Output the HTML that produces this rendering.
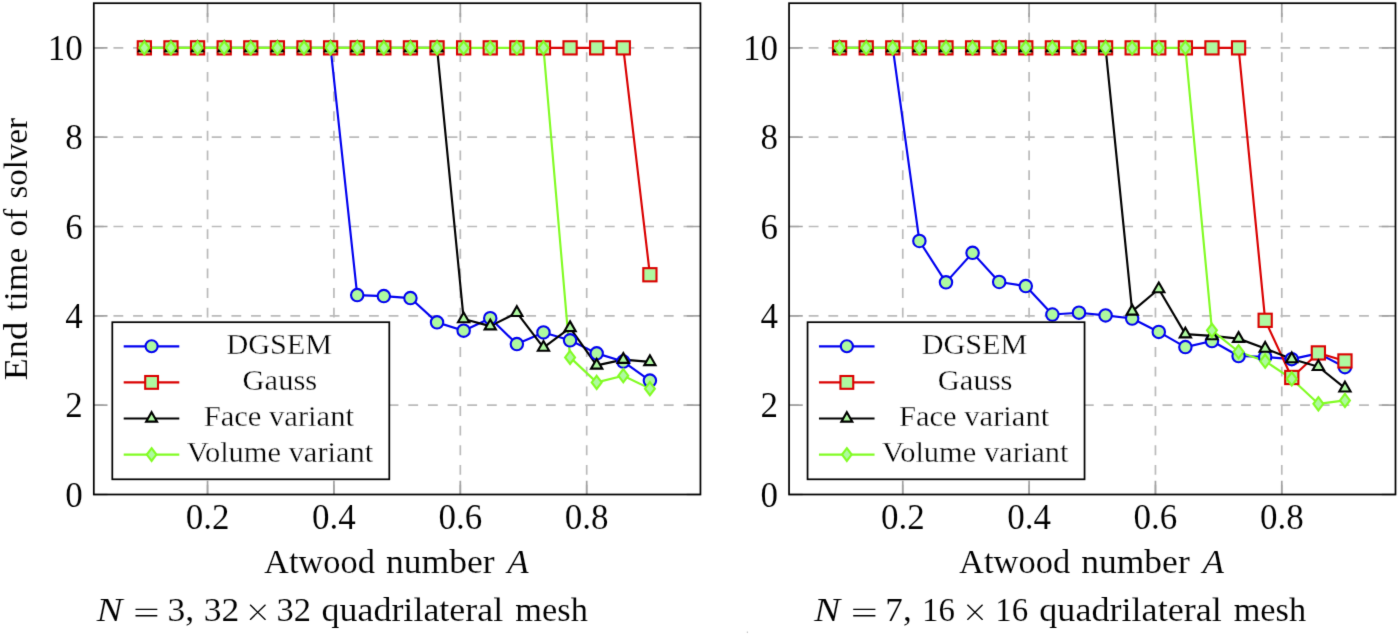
<!DOCTYPE html>
<html><head><meta charset="utf-8"><title>Atwood number plots</title>
<style>
html,body{margin:0;padding:0;background:#fff;}
body{width:1400px;height:635px;overflow:hidden;}
svg{display:block;will-change:transform;}
text{font-family:"Liberation Serif",serif;fill:#000;stroke:#fff;stroke-width:0.1px;paint-order:fill;}
.lgt{stroke-width:0.3px;}
.tk{font-size:35px;}
.lb{font-size:34px;}
.cp{font-size:33px;}
.lg{font-size:27px;}
</style></head><body>
<svg width="1400" height="635" viewBox="0 0 1400 635">
<defs><filter id="soft" x="0" y="0" width="1400" height="635" filterUnits="userSpaceOnUse" color-interpolation-filters="sRGB"><feConvolveMatrix order="3" kernelMatrix="0.0100 0.0800 0.0100 0.0800 0.6400 0.0800 0.0100 0.0800 0.0100" divisor="1" edgeMode="duplicate"/></filter></defs>
<g filter="url(#soft)">
<rect width="1400" height="635" fill="#fff"/>
<rect x="746.8" y="631.6" width="1.2" height="1.2" fill="#b8b8b8"/>
<path d="M207.55 494.5V3.2M333.93 494.5V3.2M460.32 494.5V3.2M586.7 494.5V3.2M93.8 405.17H700.45M93.8 315.85H700.45M93.8 226.52H700.45M93.8 137.19H700.45M93.8 47.86H700.45" stroke="#bababa" stroke-width="1.7" stroke-dasharray="9.828 9.828" fill="none"/>
<path d="M207.55 494.5v-13.7M207.55 3.2v13.7M333.93 494.5v-13.7M333.93 3.2v13.7M460.32 494.5v-13.7M460.32 3.2v13.7M586.7 494.5v-13.7M586.7 3.2v13.7M93.8 494.5h13.7M700.45 494.5h-13.7M93.8 405.17h13.7M700.45 405.17h-13.7M93.8 315.85h13.7M700.45 315.85h-13.7M93.8 226.52h13.7M700.45 226.52h-13.7M93.8 137.19h13.7M700.45 137.19h-13.7M93.8 47.86h13.7M700.45 47.86h-13.7" stroke="#a2a2a2" stroke-width="1.7" fill="none"/>
<polyline points="330.61,47.86 357.21,295.08 383.82,296.06 410.43,298.07 437.04,322.37 463.64,330.67 490.25,318.17 516.86,344.07 543.47,332.46 570.07,340.28 596.68,353.36 623.29,361.58 649.9,380.61" fill="none" stroke="#0000f0" stroke-width="2.15" stroke-linejoin="round"/>
<polyline points="543.47,47.86 570.07,47.86 596.68,47.86 623.29,47.86 649.9,274.75" fill="none" stroke="#da0000" stroke-width="2.15" stroke-linejoin="round"/>
<polyline points="144.35,47.86 170.96,47.86 197.57,47.86 224.18,47.86 250.78,47.86 277.39,47.86 304,47.86 330.61,47.86 357.21,47.86 383.82,47.86 410.43,47.86 437.04,47.86 463.64,318.97 490.25,326.12 516.86,312.72 543.47,347.56 570.07,327.9 596.68,365.42 623.29,359.62 649.9,361.85" fill="none" stroke="#000000" stroke-width="2.15" stroke-linejoin="round"/>
<polyline points="144.35,47.86 170.96,47.86 197.57,47.86 224.18,47.86 250.78,47.86 277.39,47.86 304,47.86 330.61,47.86 357.21,47.86 383.82,47.86 410.43,47.86 437.04,47.86 463.64,47.86 490.25,47.86 516.86,47.86 543.47,47.86 570.07,357.38 596.68,382.39 623.29,375.69 649.9,388.65" fill="none" stroke="#82fc24" stroke-width="2.15" stroke-linejoin="round"/>
<circle cx="144.35" cy="47.86" r="6.2" fill="#aef9a0" stroke="#0000f0" stroke-width="2.1"/>
<circle cx="170.96" cy="47.86" r="6.2" fill="#aef9a0" stroke="#0000f0" stroke-width="2.1"/>
<circle cx="197.57" cy="47.86" r="6.2" fill="#aef9a0" stroke="#0000f0" stroke-width="2.1"/>
<circle cx="224.18" cy="47.86" r="6.2" fill="#aef9a0" stroke="#0000f0" stroke-width="2.1"/>
<circle cx="250.78" cy="47.86" r="6.2" fill="#aef9a0" stroke="#0000f0" stroke-width="2.1"/>
<circle cx="277.39" cy="47.86" r="6.2" fill="#aef9a0" stroke="#0000f0" stroke-width="2.1"/>
<circle cx="304" cy="47.86" r="6.2" fill="#aef9a0" stroke="#0000f0" stroke-width="2.1"/>
<circle cx="330.61" cy="47.86" r="6.2" fill="#aef9a0" stroke="#0000f0" stroke-width="2.1"/>
<circle cx="357.21" cy="295.08" r="6.2" fill="#aef9a0" stroke="#0000f0" stroke-width="2.1"/>
<circle cx="383.82" cy="296.06" r="6.2" fill="#aef9a0" stroke="#0000f0" stroke-width="2.1"/>
<circle cx="410.43" cy="298.07" r="6.2" fill="#aef9a0" stroke="#0000f0" stroke-width="2.1"/>
<circle cx="437.04" cy="322.37" r="6.2" fill="#aef9a0" stroke="#0000f0" stroke-width="2.1"/>
<circle cx="463.64" cy="330.67" r="6.2" fill="#aef9a0" stroke="#0000f0" stroke-width="2.1"/>
<circle cx="490.25" cy="318.17" r="6.2" fill="#aef9a0" stroke="#0000f0" stroke-width="2.1"/>
<circle cx="516.86" cy="344.07" r="6.2" fill="#aef9a0" stroke="#0000f0" stroke-width="2.1"/>
<circle cx="543.47" cy="332.46" r="6.2" fill="#aef9a0" stroke="#0000f0" stroke-width="2.1"/>
<circle cx="570.07" cy="340.28" r="6.2" fill="#aef9a0" stroke="#0000f0" stroke-width="2.1"/>
<circle cx="596.68" cy="353.36" r="6.2" fill="#aef9a0" stroke="#0000f0" stroke-width="2.1"/>
<circle cx="623.29" cy="361.58" r="6.2" fill="#aef9a0" stroke="#0000f0" stroke-width="2.1"/>
<circle cx="649.9" cy="380.61" r="6.2" fill="#aef9a0" stroke="#0000f0" stroke-width="2.1"/>
<rect x="137.75" y="41.26" width="13.2" height="13.2" fill="#aef9a0" stroke="#da0000" stroke-width="2.1"/>
<rect x="164.36" y="41.26" width="13.2" height="13.2" fill="#aef9a0" stroke="#da0000" stroke-width="2.1"/>
<rect x="190.97" y="41.26" width="13.2" height="13.2" fill="#aef9a0" stroke="#da0000" stroke-width="2.1"/>
<rect x="217.58" y="41.26" width="13.2" height="13.2" fill="#aef9a0" stroke="#da0000" stroke-width="2.1"/>
<rect x="244.18" y="41.26" width="13.2" height="13.2" fill="#aef9a0" stroke="#da0000" stroke-width="2.1"/>
<rect x="270.79" y="41.26" width="13.2" height="13.2" fill="#aef9a0" stroke="#da0000" stroke-width="2.1"/>
<rect x="297.4" y="41.26" width="13.2" height="13.2" fill="#aef9a0" stroke="#da0000" stroke-width="2.1"/>
<rect x="324.01" y="41.26" width="13.2" height="13.2" fill="#aef9a0" stroke="#da0000" stroke-width="2.1"/>
<rect x="350.61" y="41.26" width="13.2" height="13.2" fill="#aef9a0" stroke="#da0000" stroke-width="2.1"/>
<rect x="377.22" y="41.26" width="13.2" height="13.2" fill="#aef9a0" stroke="#da0000" stroke-width="2.1"/>
<rect x="403.83" y="41.26" width="13.2" height="13.2" fill="#aef9a0" stroke="#da0000" stroke-width="2.1"/>
<rect x="430.44" y="41.26" width="13.2" height="13.2" fill="#aef9a0" stroke="#da0000" stroke-width="2.1"/>
<rect x="457.04" y="41.26" width="13.2" height="13.2" fill="#aef9a0" stroke="#da0000" stroke-width="2.1"/>
<rect x="483.65" y="41.26" width="13.2" height="13.2" fill="#aef9a0" stroke="#da0000" stroke-width="2.1"/>
<rect x="510.26" y="41.26" width="13.2" height="13.2" fill="#aef9a0" stroke="#da0000" stroke-width="2.1"/>
<rect x="536.87" y="41.26" width="13.2" height="13.2" fill="#aef9a0" stroke="#da0000" stroke-width="2.1"/>
<rect x="563.47" y="41.26" width="13.2" height="13.2" fill="#aef9a0" stroke="#da0000" stroke-width="2.1"/>
<rect x="590.08" y="41.26" width="13.2" height="13.2" fill="#aef9a0" stroke="#da0000" stroke-width="2.1"/>
<rect x="616.69" y="41.26" width="13.2" height="13.2" fill="#aef9a0" stroke="#da0000" stroke-width="2.1"/>
<rect x="643.3" y="268.15" width="13.2" height="13.2" fill="#aef9a0" stroke="#da0000" stroke-width="2.1"/>
<polygon points="144.35,41.36 149.98,51.11 138.73,51.11" fill="#aef9a0" stroke="#000000" stroke-width="2.1" stroke-linejoin="miter" stroke-miterlimit="10"/>
<polygon points="170.96,41.36 176.59,51.11 165.33,51.11" fill="#aef9a0" stroke="#000000" stroke-width="2.1" stroke-linejoin="miter" stroke-miterlimit="10"/>
<polygon points="197.57,41.36 203.2,51.11 191.94,51.11" fill="#aef9a0" stroke="#000000" stroke-width="2.1" stroke-linejoin="miter" stroke-miterlimit="10"/>
<polygon points="224.18,41.36 229.81,51.11 218.55,51.11" fill="#aef9a0" stroke="#000000" stroke-width="2.1" stroke-linejoin="miter" stroke-miterlimit="10"/>
<polygon points="250.78,41.36 256.41,51.11 245.15,51.11" fill="#aef9a0" stroke="#000000" stroke-width="2.1" stroke-linejoin="miter" stroke-miterlimit="10"/>
<polygon points="277.39,41.36 283.02,51.11 271.76,51.11" fill="#aef9a0" stroke="#000000" stroke-width="2.1" stroke-linejoin="miter" stroke-miterlimit="10"/>
<polygon points="304,41.36 309.63,51.11 298.37,51.11" fill="#aef9a0" stroke="#000000" stroke-width="2.1" stroke-linejoin="miter" stroke-miterlimit="10"/>
<polygon points="330.61,41.36 336.24,51.11 324.98,51.11" fill="#aef9a0" stroke="#000000" stroke-width="2.1" stroke-linejoin="miter" stroke-miterlimit="10"/>
<polygon points="357.21,41.36 362.84,51.11 351.58,51.11" fill="#aef9a0" stroke="#000000" stroke-width="2.1" stroke-linejoin="miter" stroke-miterlimit="10"/>
<polygon points="383.82,41.36 389.45,51.11 378.19,51.11" fill="#aef9a0" stroke="#000000" stroke-width="2.1" stroke-linejoin="miter" stroke-miterlimit="10"/>
<polygon points="410.43,41.36 416.06,51.11 404.8,51.11" fill="#aef9a0" stroke="#000000" stroke-width="2.1" stroke-linejoin="miter" stroke-miterlimit="10"/>
<polygon points="437.04,41.36 442.67,51.11 431.41,51.11" fill="#aef9a0" stroke="#000000" stroke-width="2.1" stroke-linejoin="miter" stroke-miterlimit="10"/>
<polygon points="463.64,312.47 469.27,322.22 458.01,322.22" fill="#aef9a0" stroke="#000000" stroke-width="2.1" stroke-linejoin="miter" stroke-miterlimit="10"/>
<polygon points="490.25,319.62 495.88,329.37 484.62,329.37" fill="#aef9a0" stroke="#000000" stroke-width="2.1" stroke-linejoin="miter" stroke-miterlimit="10"/>
<polygon points="516.86,306.22 522.49,315.97 511.23,315.97" fill="#aef9a0" stroke="#000000" stroke-width="2.1" stroke-linejoin="miter" stroke-miterlimit="10"/>
<polygon points="543.47,341.06 549.1,350.81 537.84,350.81" fill="#aef9a0" stroke="#000000" stroke-width="2.1" stroke-linejoin="miter" stroke-miterlimit="10"/>
<polygon points="570.07,321.4 575.7,331.15 564.44,331.15" fill="#aef9a0" stroke="#000000" stroke-width="2.1" stroke-linejoin="miter" stroke-miterlimit="10"/>
<polygon points="596.68,358.92 602.31,368.67 591.05,368.67" fill="#aef9a0" stroke="#000000" stroke-width="2.1" stroke-linejoin="miter" stroke-miterlimit="10"/>
<polygon points="623.29,353.12 628.92,362.87 617.66,362.87" fill="#aef9a0" stroke="#000000" stroke-width="2.1" stroke-linejoin="miter" stroke-miterlimit="10"/>
<polygon points="649.9,355.35 655.52,365.1 644.27,365.1" fill="#aef9a0" stroke="#000000" stroke-width="2.1" stroke-linejoin="miter" stroke-miterlimit="10"/>
<polygon points="144.35,41.26 149.3,47.86 144.35,54.46 139.4,47.86" fill="#aef9a0" stroke="#82fc24" stroke-width="2.1" stroke-linejoin="miter" stroke-miterlimit="10"/>
<polygon points="170.96,41.26 175.91,47.86 170.96,54.46 166.01,47.86" fill="#aef9a0" stroke="#82fc24" stroke-width="2.1" stroke-linejoin="miter" stroke-miterlimit="10"/>
<polygon points="197.57,41.26 202.52,47.86 197.57,54.46 192.62,47.86" fill="#aef9a0" stroke="#82fc24" stroke-width="2.1" stroke-linejoin="miter" stroke-miterlimit="10"/>
<polygon points="224.18,41.26 229.13,47.86 224.18,54.46 219.23,47.86" fill="#aef9a0" stroke="#82fc24" stroke-width="2.1" stroke-linejoin="miter" stroke-miterlimit="10"/>
<polygon points="250.78,41.26 255.73,47.86 250.78,54.46 245.83,47.86" fill="#aef9a0" stroke="#82fc24" stroke-width="2.1" stroke-linejoin="miter" stroke-miterlimit="10"/>
<polygon points="277.39,41.26 282.34,47.86 277.39,54.46 272.44,47.86" fill="#aef9a0" stroke="#82fc24" stroke-width="2.1" stroke-linejoin="miter" stroke-miterlimit="10"/>
<polygon points="304,41.26 308.95,47.86 304,54.46 299.05,47.86" fill="#aef9a0" stroke="#82fc24" stroke-width="2.1" stroke-linejoin="miter" stroke-miterlimit="10"/>
<polygon points="330.61,41.26 335.56,47.86 330.61,54.46 325.66,47.86" fill="#aef9a0" stroke="#82fc24" stroke-width="2.1" stroke-linejoin="miter" stroke-miterlimit="10"/>
<polygon points="357.21,41.26 362.16,47.86 357.21,54.46 352.26,47.86" fill="#aef9a0" stroke="#82fc24" stroke-width="2.1" stroke-linejoin="miter" stroke-miterlimit="10"/>
<polygon points="383.82,41.26 388.77,47.86 383.82,54.46 378.87,47.86" fill="#aef9a0" stroke="#82fc24" stroke-width="2.1" stroke-linejoin="miter" stroke-miterlimit="10"/>
<polygon points="410.43,41.26 415.38,47.86 410.43,54.46 405.48,47.86" fill="#aef9a0" stroke="#82fc24" stroke-width="2.1" stroke-linejoin="miter" stroke-miterlimit="10"/>
<polygon points="437.04,41.26 441.99,47.86 437.04,54.46 432.09,47.86" fill="#aef9a0" stroke="#82fc24" stroke-width="2.1" stroke-linejoin="miter" stroke-miterlimit="10"/>
<polygon points="463.64,41.26 468.59,47.86 463.64,54.46 458.69,47.86" fill="#aef9a0" stroke="#82fc24" stroke-width="2.1" stroke-linejoin="miter" stroke-miterlimit="10"/>
<polygon points="490.25,41.26 495.2,47.86 490.25,54.46 485.3,47.86" fill="#aef9a0" stroke="#82fc24" stroke-width="2.1" stroke-linejoin="miter" stroke-miterlimit="10"/>
<polygon points="516.86,41.26 521.81,47.86 516.86,54.46 511.91,47.86" fill="#aef9a0" stroke="#82fc24" stroke-width="2.1" stroke-linejoin="miter" stroke-miterlimit="10"/>
<polygon points="543.47,41.26 548.42,47.86 543.47,54.46 538.52,47.86" fill="#aef9a0" stroke="#82fc24" stroke-width="2.1" stroke-linejoin="miter" stroke-miterlimit="10"/>
<polygon points="570.07,350.78 575.02,357.38 570.07,363.98 565.12,357.38" fill="#aef9a0" stroke="#82fc24" stroke-width="2.1" stroke-linejoin="miter" stroke-miterlimit="10"/>
<polygon points="596.68,375.79 601.63,382.39 596.68,388.99 591.73,382.39" fill="#aef9a0" stroke="#82fc24" stroke-width="2.1" stroke-linejoin="miter" stroke-miterlimit="10"/>
<polygon points="623.29,369.09 628.24,375.69 623.29,382.29 618.34,375.69" fill="#aef9a0" stroke="#82fc24" stroke-width="2.1" stroke-linejoin="miter" stroke-miterlimit="10"/>
<polygon points="649.9,382.05 654.85,388.65 649.9,395.25 644.95,388.65" fill="#aef9a0" stroke="#82fc24" stroke-width="2.1" stroke-linejoin="miter" stroke-miterlimit="10"/>
<rect x="93.8" y="3.2" width="606.65" height="491.3" fill="none" stroke="#000" stroke-width="1.73"/>
<text x="207.55" y="529" text-anchor="middle" class="tk">0.2</text>
<text x="333.93" y="529" text-anchor="middle" class="tk">0.4</text>
<text x="460.32" y="529" text-anchor="middle" class="tk">0.6</text>
<text x="586.7" y="529" text-anchor="middle" class="tk">0.8</text>
<text x="82.8" y="506.8" text-anchor="end" class="tk">0</text>
<text x="82.8" y="417.47" text-anchor="end" class="tk">2</text>
<text x="82.8" y="328.15" text-anchor="end" class="tk">4</text>
<text x="82.8" y="238.82" text-anchor="end" class="tk">6</text>
<text x="82.8" y="149.49" text-anchor="end" class="tk">8</text>
<text x="82.8" y="60.16" text-anchor="end" class="tk">10</text>
<text x="263.99" y="572.9" font-size="34" textLength="111.08" lengthAdjust="spacingAndGlyphs">Atwood</text>
<text x="386.05" y="572.9" font-size="34" textLength="108.54" lengthAdjust="spacingAndGlyphs">number</text>
<text x="507.34" y="572.9" font-size="34" font-style="italic" textLength="21.54" lengthAdjust="spacingAndGlyphs">A</text>
<text x="96.4" y="620.7" font-size="33" font-style="italic" textLength="26.18" lengthAdjust="spacingAndGlyphs">N</text>
<path d="M135.5 609.4H157.3M135.5 615.8H157.3" stroke="#000" stroke-width="1.4" fill="none"/>
<text x="167.55" y="620.7" font-size="33" textLength="26.64" lengthAdjust="spacingAndGlyphs">3,</text>
<text x="203.75" y="620.7" font-size="33" textLength="35.5" lengthAdjust="spacingAndGlyphs">32</text>
<path d="M250.4 605.1L265.2 619.4M265.2 605.1L250.4 619.4" stroke="#000" stroke-width="1.35" stroke-linecap="round" fill="none"/>
<text x="276.61" y="620.7" font-size="33" textLength="34.48" lengthAdjust="spacingAndGlyphs">32</text>
<text x="321.41" y="620.7" font-size="33" textLength="181.91" lengthAdjust="spacingAndGlyphs">quadrilateral</text>
<text x="515.36" y="620.7" font-size="33" textLength="72.44" lengthAdjust="spacingAndGlyphs">mesh</text>
<rect x="112.3" y="322.2" width="277" height="157.1" fill="#fff" stroke="#000" stroke-width="1.73"/>
<path d="M123.7 346.3H179.3" stroke="#0000f0" stroke-width="2.15"/>
<circle cx="151.6" cy="346.3" r="6.01" fill="#aef9a0" stroke="#0000f0" stroke-width="2.1"/>
<text class="lgt" x="226.48" y="353.8" font-size="28.5" textLength="105.69" lengthAdjust="spacingAndGlyphs">DGSEM</text>
<path d="M123.7 382.4H179.3" stroke="#da0000" stroke-width="2.15"/>
<rect x="145.2" y="376" width="12.8" height="12.8" fill="#aef9a0" stroke="#da0000" stroke-width="2.1"/>
<text class="lgt" x="242.53" y="389.83" font-size="28.5" textLength="74.66" lengthAdjust="spacingAndGlyphs">Gauss</text>
<path d="M123.7 418.5H179.3" stroke="#000000" stroke-width="2.15"/>
<polygon points="151.6,412.19 157.06,421.65 146.14,421.65" fill="#aef9a0" stroke="#000000" stroke-width="2.1" stroke-linejoin="miter" stroke-miterlimit="10"/>
<text class="lgt" x="203.65" y="425.86" font-size="28.5" textLength="150.29" lengthAdjust="spacingAndGlyphs">Face variant</text>
<path d="M123.7 454.6H179.3" stroke="#82fc24" stroke-width="2.15"/>
<polygon points="151.6,448.2 156.4,454.6 151.6,461 146.8,454.6" fill="#aef9a0" stroke="#82fc24" stroke-width="2.1" stroke-linejoin="miter" stroke-miterlimit="10"/>
<text class="lgt" x="186.86" y="461.89" font-size="28.5" textLength="186.34" lengthAdjust="spacingAndGlyphs">Volume variant</text>
<path d="M902.76 494.5V3.2M1029.1 494.5V3.2M1155.45 494.5V3.2M1281.79 494.5V3.2M789.05 405.17H1395.5M789.05 315.85H1395.5M789.05 226.52H1395.5M789.05 137.19H1395.5M789.05 47.86H1395.5" stroke="#bababa" stroke-width="1.7" stroke-dasharray="9.828 9.828" fill="none"/>
<path d="M902.76 494.5v-13.7M902.76 3.2v13.7M1029.1 494.5v-13.7M1029.1 3.2v13.7M1155.45 494.5v-13.7M1155.45 3.2v13.7M1281.79 494.5v-13.7M1281.79 3.2v13.7M789.05 494.5h13.7M1395.5 494.5h-13.7M789.05 405.17h13.7M1395.5 405.17h-13.7M789.05 315.85h13.7M1395.5 315.85h-13.7M789.05 226.52h13.7M1395.5 226.52h-13.7M789.05 137.19h13.7M1395.5 137.19h-13.7M789.05 47.86h13.7M1395.5 47.86h-13.7" stroke="#a2a2a2" stroke-width="1.7" fill="none"/>
<polyline points="892.78,47.86 919.38,240.99 945.98,282.35 972.58,252.87 999.18,281.99 1025.78,286.05 1052.38,314.51 1078.98,312.72 1105.57,315.4 1132.17,318.53 1158.77,331.92 1185.37,347.11 1211.97,341.04 1238.57,356.04 1265.17,356.94 1291.77,359.17 1318.36,353.36 1344.96,367.21" fill="none" stroke="#0000f0" stroke-width="2.15" stroke-linejoin="round"/>
<polyline points="1185.37,47.86 1211.97,47.86 1238.57,47.86 1265.17,320.31 1291.77,377.48 1318.36,352.92 1344.96,360.96" fill="none" stroke="#da0000" stroke-width="2.15" stroke-linejoin="round"/>
<polyline points="839.59,47.86 866.19,47.86 892.78,47.86 919.38,47.86 945.98,47.86 972.58,47.86 999.18,47.86 1025.78,47.86 1052.38,47.86 1078.98,47.86 1105.57,47.86 1132.17,311.38 1158.77,289.05 1185.37,334.16 1211.97,335.94 1238.57,338.62 1265.17,348.45 1291.77,358.95 1318.36,366.76 1344.96,388.2" fill="none" stroke="#000000" stroke-width="2.15" stroke-linejoin="round"/>
<polyline points="839.59,47.86 866.19,47.86 892.78,47.86 919.38,47.86 945.98,47.86 972.58,47.86 999.18,47.86 1025.78,47.86 1052.38,47.86 1078.98,47.86 1105.57,47.86 1132.17,47.86 1158.77,47.86 1185.37,47.86 1211.97,330.36 1238.57,351.76 1265.17,361.18 1291.77,378.96 1318.36,403.83 1344.96,400.44" fill="none" stroke="#82fc24" stroke-width="2.15" stroke-linejoin="round"/>
<circle cx="839.59" cy="47.86" r="6.2" fill="#aef9a0" stroke="#0000f0" stroke-width="2.1"/>
<circle cx="866.19" cy="47.86" r="6.2" fill="#aef9a0" stroke="#0000f0" stroke-width="2.1"/>
<circle cx="892.78" cy="47.86" r="6.2" fill="#aef9a0" stroke="#0000f0" stroke-width="2.1"/>
<circle cx="919.38" cy="240.99" r="6.2" fill="#aef9a0" stroke="#0000f0" stroke-width="2.1"/>
<circle cx="945.98" cy="282.35" r="6.2" fill="#aef9a0" stroke="#0000f0" stroke-width="2.1"/>
<circle cx="972.58" cy="252.87" r="6.2" fill="#aef9a0" stroke="#0000f0" stroke-width="2.1"/>
<circle cx="999.18" cy="281.99" r="6.2" fill="#aef9a0" stroke="#0000f0" stroke-width="2.1"/>
<circle cx="1025.78" cy="286.05" r="6.2" fill="#aef9a0" stroke="#0000f0" stroke-width="2.1"/>
<circle cx="1052.38" cy="314.51" r="6.2" fill="#aef9a0" stroke="#0000f0" stroke-width="2.1"/>
<circle cx="1078.98" cy="312.72" r="6.2" fill="#aef9a0" stroke="#0000f0" stroke-width="2.1"/>
<circle cx="1105.57" cy="315.4" r="6.2" fill="#aef9a0" stroke="#0000f0" stroke-width="2.1"/>
<circle cx="1132.17" cy="318.53" r="6.2" fill="#aef9a0" stroke="#0000f0" stroke-width="2.1"/>
<circle cx="1158.77" cy="331.92" r="6.2" fill="#aef9a0" stroke="#0000f0" stroke-width="2.1"/>
<circle cx="1185.37" cy="347.11" r="6.2" fill="#aef9a0" stroke="#0000f0" stroke-width="2.1"/>
<circle cx="1211.97" cy="341.04" r="6.2" fill="#aef9a0" stroke="#0000f0" stroke-width="2.1"/>
<circle cx="1238.57" cy="356.04" r="6.2" fill="#aef9a0" stroke="#0000f0" stroke-width="2.1"/>
<circle cx="1265.17" cy="356.94" r="6.2" fill="#aef9a0" stroke="#0000f0" stroke-width="2.1"/>
<circle cx="1291.77" cy="359.17" r="6.2" fill="#aef9a0" stroke="#0000f0" stroke-width="2.1"/>
<circle cx="1318.36" cy="353.36" r="6.2" fill="#aef9a0" stroke="#0000f0" stroke-width="2.1"/>
<circle cx="1344.96" cy="367.21" r="6.2" fill="#aef9a0" stroke="#0000f0" stroke-width="2.1"/>
<rect x="832.99" y="41.26" width="13.2" height="13.2" fill="#aef9a0" stroke="#da0000" stroke-width="2.1"/>
<rect x="859.59" y="41.26" width="13.2" height="13.2" fill="#aef9a0" stroke="#da0000" stroke-width="2.1"/>
<rect x="886.18" y="41.26" width="13.2" height="13.2" fill="#aef9a0" stroke="#da0000" stroke-width="2.1"/>
<rect x="912.78" y="41.26" width="13.2" height="13.2" fill="#aef9a0" stroke="#da0000" stroke-width="2.1"/>
<rect x="939.38" y="41.26" width="13.2" height="13.2" fill="#aef9a0" stroke="#da0000" stroke-width="2.1"/>
<rect x="965.98" y="41.26" width="13.2" height="13.2" fill="#aef9a0" stroke="#da0000" stroke-width="2.1"/>
<rect x="992.58" y="41.26" width="13.2" height="13.2" fill="#aef9a0" stroke="#da0000" stroke-width="2.1"/>
<rect x="1019.18" y="41.26" width="13.2" height="13.2" fill="#aef9a0" stroke="#da0000" stroke-width="2.1"/>
<rect x="1045.78" y="41.26" width="13.2" height="13.2" fill="#aef9a0" stroke="#da0000" stroke-width="2.1"/>
<rect x="1072.38" y="41.26" width="13.2" height="13.2" fill="#aef9a0" stroke="#da0000" stroke-width="2.1"/>
<rect x="1098.97" y="41.26" width="13.2" height="13.2" fill="#aef9a0" stroke="#da0000" stroke-width="2.1"/>
<rect x="1125.57" y="41.26" width="13.2" height="13.2" fill="#aef9a0" stroke="#da0000" stroke-width="2.1"/>
<rect x="1152.17" y="41.26" width="13.2" height="13.2" fill="#aef9a0" stroke="#da0000" stroke-width="2.1"/>
<rect x="1178.77" y="41.26" width="13.2" height="13.2" fill="#aef9a0" stroke="#da0000" stroke-width="2.1"/>
<rect x="1205.37" y="41.26" width="13.2" height="13.2" fill="#aef9a0" stroke="#da0000" stroke-width="2.1"/>
<rect x="1231.97" y="41.26" width="13.2" height="13.2" fill="#aef9a0" stroke="#da0000" stroke-width="2.1"/>
<rect x="1258.57" y="313.71" width="13.2" height="13.2" fill="#aef9a0" stroke="#da0000" stroke-width="2.1"/>
<rect x="1285.17" y="370.88" width="13.2" height="13.2" fill="#aef9a0" stroke="#da0000" stroke-width="2.1"/>
<rect x="1311.76" y="346.32" width="13.2" height="13.2" fill="#aef9a0" stroke="#da0000" stroke-width="2.1"/>
<rect x="1338.36" y="354.36" width="13.2" height="13.2" fill="#aef9a0" stroke="#da0000" stroke-width="2.1"/>
<polygon points="839.59,41.36 845.22,51.11 833.96,51.11" fill="#aef9a0" stroke="#000000" stroke-width="2.1" stroke-linejoin="miter" stroke-miterlimit="10"/>
<polygon points="866.19,41.36 871.82,51.11 860.56,51.11" fill="#aef9a0" stroke="#000000" stroke-width="2.1" stroke-linejoin="miter" stroke-miterlimit="10"/>
<polygon points="892.78,41.36 898.41,51.11 887.16,51.11" fill="#aef9a0" stroke="#000000" stroke-width="2.1" stroke-linejoin="miter" stroke-miterlimit="10"/>
<polygon points="919.38,41.36 925.01,51.11 913.75,51.11" fill="#aef9a0" stroke="#000000" stroke-width="2.1" stroke-linejoin="miter" stroke-miterlimit="10"/>
<polygon points="945.98,41.36 951.61,51.11 940.35,51.11" fill="#aef9a0" stroke="#000000" stroke-width="2.1" stroke-linejoin="miter" stroke-miterlimit="10"/>
<polygon points="972.58,41.36 978.21,51.11 966.95,51.11" fill="#aef9a0" stroke="#000000" stroke-width="2.1" stroke-linejoin="miter" stroke-miterlimit="10"/>
<polygon points="999.18,41.36 1004.81,51.11 993.55,51.11" fill="#aef9a0" stroke="#000000" stroke-width="2.1" stroke-linejoin="miter" stroke-miterlimit="10"/>
<polygon points="1025.78,41.36 1031.41,51.11 1020.15,51.11" fill="#aef9a0" stroke="#000000" stroke-width="2.1" stroke-linejoin="miter" stroke-miterlimit="10"/>
<polygon points="1052.38,41.36 1058.01,51.11 1046.75,51.11" fill="#aef9a0" stroke="#000000" stroke-width="2.1" stroke-linejoin="miter" stroke-miterlimit="10"/>
<polygon points="1078.98,41.36 1084.6,51.11 1073.35,51.11" fill="#aef9a0" stroke="#000000" stroke-width="2.1" stroke-linejoin="miter" stroke-miterlimit="10"/>
<polygon points="1105.57,41.36 1111.2,51.11 1099.95,51.11" fill="#aef9a0" stroke="#000000" stroke-width="2.1" stroke-linejoin="miter" stroke-miterlimit="10"/>
<polygon points="1132.17,304.88 1137.8,314.63 1126.54,314.63" fill="#aef9a0" stroke="#000000" stroke-width="2.1" stroke-linejoin="miter" stroke-miterlimit="10"/>
<polygon points="1158.77,282.55 1164.4,292.3 1153.14,292.3" fill="#aef9a0" stroke="#000000" stroke-width="2.1" stroke-linejoin="miter" stroke-miterlimit="10"/>
<polygon points="1185.37,327.66 1191,337.41 1179.74,337.41" fill="#aef9a0" stroke="#000000" stroke-width="2.1" stroke-linejoin="miter" stroke-miterlimit="10"/>
<polygon points="1211.97,329.44 1217.6,339.19 1206.34,339.19" fill="#aef9a0" stroke="#000000" stroke-width="2.1" stroke-linejoin="miter" stroke-miterlimit="10"/>
<polygon points="1238.57,332.12 1244.2,341.87 1232.94,341.87" fill="#aef9a0" stroke="#000000" stroke-width="2.1" stroke-linejoin="miter" stroke-miterlimit="10"/>
<polygon points="1265.17,341.95 1270.8,351.7 1259.54,351.7" fill="#aef9a0" stroke="#000000" stroke-width="2.1" stroke-linejoin="miter" stroke-miterlimit="10"/>
<polygon points="1291.77,352.45 1297.39,362.2 1286.14,362.2" fill="#aef9a0" stroke="#000000" stroke-width="2.1" stroke-linejoin="miter" stroke-miterlimit="10"/>
<polygon points="1318.36,360.26 1323.99,370.01 1312.73,370.01" fill="#aef9a0" stroke="#000000" stroke-width="2.1" stroke-linejoin="miter" stroke-miterlimit="10"/>
<polygon points="1344.96,381.7 1350.59,391.45 1339.33,391.45" fill="#aef9a0" stroke="#000000" stroke-width="2.1" stroke-linejoin="miter" stroke-miterlimit="10"/>
<polygon points="839.59,41.26 844.54,47.86 839.59,54.46 834.64,47.86" fill="#aef9a0" stroke="#82fc24" stroke-width="2.1" stroke-linejoin="miter" stroke-miterlimit="10"/>
<polygon points="866.19,41.26 871.14,47.86 866.19,54.46 861.24,47.86" fill="#aef9a0" stroke="#82fc24" stroke-width="2.1" stroke-linejoin="miter" stroke-miterlimit="10"/>
<polygon points="892.78,41.26 897.73,47.86 892.78,54.46 887.83,47.86" fill="#aef9a0" stroke="#82fc24" stroke-width="2.1" stroke-linejoin="miter" stroke-miterlimit="10"/>
<polygon points="919.38,41.26 924.33,47.86 919.38,54.46 914.43,47.86" fill="#aef9a0" stroke="#82fc24" stroke-width="2.1" stroke-linejoin="miter" stroke-miterlimit="10"/>
<polygon points="945.98,41.26 950.93,47.86 945.98,54.46 941.03,47.86" fill="#aef9a0" stroke="#82fc24" stroke-width="2.1" stroke-linejoin="miter" stroke-miterlimit="10"/>
<polygon points="972.58,41.26 977.53,47.86 972.58,54.46 967.63,47.86" fill="#aef9a0" stroke="#82fc24" stroke-width="2.1" stroke-linejoin="miter" stroke-miterlimit="10"/>
<polygon points="999.18,41.26 1004.13,47.86 999.18,54.46 994.23,47.86" fill="#aef9a0" stroke="#82fc24" stroke-width="2.1" stroke-linejoin="miter" stroke-miterlimit="10"/>
<polygon points="1025.78,41.26 1030.73,47.86 1025.78,54.46 1020.83,47.86" fill="#aef9a0" stroke="#82fc24" stroke-width="2.1" stroke-linejoin="miter" stroke-miterlimit="10"/>
<polygon points="1052.38,41.26 1057.33,47.86 1052.38,54.46 1047.43,47.86" fill="#aef9a0" stroke="#82fc24" stroke-width="2.1" stroke-linejoin="miter" stroke-miterlimit="10"/>
<polygon points="1078.98,41.26 1083.93,47.86 1078.98,54.46 1074.03,47.86" fill="#aef9a0" stroke="#82fc24" stroke-width="2.1" stroke-linejoin="miter" stroke-miterlimit="10"/>
<polygon points="1105.57,41.26 1110.52,47.86 1105.57,54.46 1100.62,47.86" fill="#aef9a0" stroke="#82fc24" stroke-width="2.1" stroke-linejoin="miter" stroke-miterlimit="10"/>
<polygon points="1132.17,41.26 1137.12,47.86 1132.17,54.46 1127.22,47.86" fill="#aef9a0" stroke="#82fc24" stroke-width="2.1" stroke-linejoin="miter" stroke-miterlimit="10"/>
<polygon points="1158.77,41.26 1163.72,47.86 1158.77,54.46 1153.82,47.86" fill="#aef9a0" stroke="#82fc24" stroke-width="2.1" stroke-linejoin="miter" stroke-miterlimit="10"/>
<polygon points="1185.37,41.26 1190.32,47.86 1185.37,54.46 1180.42,47.86" fill="#aef9a0" stroke="#82fc24" stroke-width="2.1" stroke-linejoin="miter" stroke-miterlimit="10"/>
<polygon points="1211.97,323.76 1216.92,330.36 1211.97,336.96 1207.02,330.36" fill="#aef9a0" stroke="#82fc24" stroke-width="2.1" stroke-linejoin="miter" stroke-miterlimit="10"/>
<polygon points="1238.57,345.16 1243.52,351.76 1238.57,358.36 1233.62,351.76" fill="#aef9a0" stroke="#82fc24" stroke-width="2.1" stroke-linejoin="miter" stroke-miterlimit="10"/>
<polygon points="1265.17,354.58 1270.12,361.18 1265.17,367.78 1260.22,361.18" fill="#aef9a0" stroke="#82fc24" stroke-width="2.1" stroke-linejoin="miter" stroke-miterlimit="10"/>
<polygon points="1291.77,372.36 1296.72,378.96 1291.77,385.56 1286.82,378.96" fill="#aef9a0" stroke="#82fc24" stroke-width="2.1" stroke-linejoin="miter" stroke-miterlimit="10"/>
<polygon points="1318.36,397.23 1323.31,403.83 1318.36,410.43 1313.41,403.83" fill="#aef9a0" stroke="#82fc24" stroke-width="2.1" stroke-linejoin="miter" stroke-miterlimit="10"/>
<polygon points="1344.96,393.84 1349.91,400.44 1344.96,407.04 1340.01,400.44" fill="#aef9a0" stroke="#82fc24" stroke-width="2.1" stroke-linejoin="miter" stroke-miterlimit="10"/>
<rect x="789.05" y="3.2" width="606.45" height="491.3" fill="none" stroke="#000" stroke-width="1.73"/>
<text x="902.76" y="529" text-anchor="middle" class="tk">0.2</text>
<text x="1029.1" y="529" text-anchor="middle" class="tk">0.4</text>
<text x="1155.45" y="529" text-anchor="middle" class="tk">0.6</text>
<text x="1281.79" y="529" text-anchor="middle" class="tk">0.8</text>
<text x="778.05" y="506.8" text-anchor="end" class="tk">0</text>
<text x="778.05" y="417.47" text-anchor="end" class="tk">2</text>
<text x="778.05" y="328.15" text-anchor="end" class="tk">4</text>
<text x="778.05" y="238.82" text-anchor="end" class="tk">6</text>
<text x="778.05" y="149.49" text-anchor="end" class="tk">8</text>
<text x="778.05" y="60.16" text-anchor="end" class="tk">10</text>
<text x="959.14" y="572.9" font-size="34" textLength="111.08" lengthAdjust="spacingAndGlyphs">Atwood</text>
<text x="1081.2" y="572.9" font-size="34" textLength="108.54" lengthAdjust="spacingAndGlyphs">number</text>
<text x="1202.49" y="572.9" font-size="34" font-style="italic" textLength="21.54" lengthAdjust="spacingAndGlyphs">A</text>
<text x="813.9" y="620.7" font-size="33" font-style="italic" textLength="26.32" lengthAdjust="spacingAndGlyphs">N</text>
<path d="M853.2 609.4H875.4M853.2 615.8H875.4" stroke="#000" stroke-width="1.4" fill="none"/>
<text x="885.38" y="620.7" font-size="33" textLength="26.28" lengthAdjust="spacingAndGlyphs">7,</text>
<text x="922.01" y="620.7" font-size="33" textLength="32.89" lengthAdjust="spacingAndGlyphs">16</text>
<path d="M967.7 605.1L982.3 619.4M982.3 605.1L967.7 619.4" stroke="#000" stroke-width="1.35" stroke-linecap="round" fill="none"/>
<text x="995.21" y="620.7" font-size="33" textLength="32.89" lengthAdjust="spacingAndGlyphs">16</text>
<text x="1039.31" y="620.7" font-size="33" textLength="182.52" lengthAdjust="spacingAndGlyphs">quadrilateral</text>
<text x="1233.66" y="620.7" font-size="33" textLength="72.44" lengthAdjust="spacingAndGlyphs">mesh</text>
<rect x="807.55" y="322.2" width="277" height="157.1" fill="#fff" stroke="#000" stroke-width="1.73"/>
<path d="M818.95 346.3H874.55" stroke="#0000f0" stroke-width="2.15"/>
<circle cx="846.85" cy="346.3" r="6.01" fill="#aef9a0" stroke="#0000f0" stroke-width="2.1"/>
<text class="lgt" x="921.73" y="353.8" font-size="28.5" textLength="105.69" lengthAdjust="spacingAndGlyphs">DGSEM</text>
<path d="M818.95 382.4H874.55" stroke="#da0000" stroke-width="2.15"/>
<rect x="840.45" y="376" width="12.8" height="12.8" fill="#aef9a0" stroke="#da0000" stroke-width="2.1"/>
<text class="lgt" x="937.78" y="389.83" font-size="28.5" textLength="74.66" lengthAdjust="spacingAndGlyphs">Gauss</text>
<path d="M818.95 418.5H874.55" stroke="#000000" stroke-width="2.15"/>
<polygon points="846.85,412.19 852.31,421.65 841.39,421.65" fill="#aef9a0" stroke="#000000" stroke-width="2.1" stroke-linejoin="miter" stroke-miterlimit="10"/>
<text class="lgt" x="898.9" y="425.86" font-size="28.5" textLength="150.29" lengthAdjust="spacingAndGlyphs">Face variant</text>
<path d="M818.95 454.6H874.55" stroke="#82fc24" stroke-width="2.15"/>
<polygon points="846.85,448.2 851.65,454.6 846.85,461 842.05,454.6" fill="#aef9a0" stroke="#82fc24" stroke-width="2.1" stroke-linejoin="miter" stroke-miterlimit="10"/>
<text class="lgt" x="882.11" y="461.89" font-size="28.5" textLength="186.34" lengthAdjust="spacingAndGlyphs">Volume variant</text>
<text x="-380.37" y="0" font-size="34" transform="translate(27,0) rotate(-90)" textLength="58.61" lengthAdjust="spacingAndGlyphs">End</text>
<text x="-310.74" y="0" font-size="34" transform="translate(27,0) rotate(-90)" textLength="62.83" lengthAdjust="spacingAndGlyphs">time</text>
<text x="-236.48" y="0" font-size="34" transform="translate(27,0) rotate(-90)" textLength="27.8" lengthAdjust="spacingAndGlyphs">of</text>
<text x="-198.57" y="0" font-size="34" transform="translate(27,0) rotate(-90)" textLength="80.46" lengthAdjust="spacingAndGlyphs">solver</text>
</g>
</svg>
</body></html>
